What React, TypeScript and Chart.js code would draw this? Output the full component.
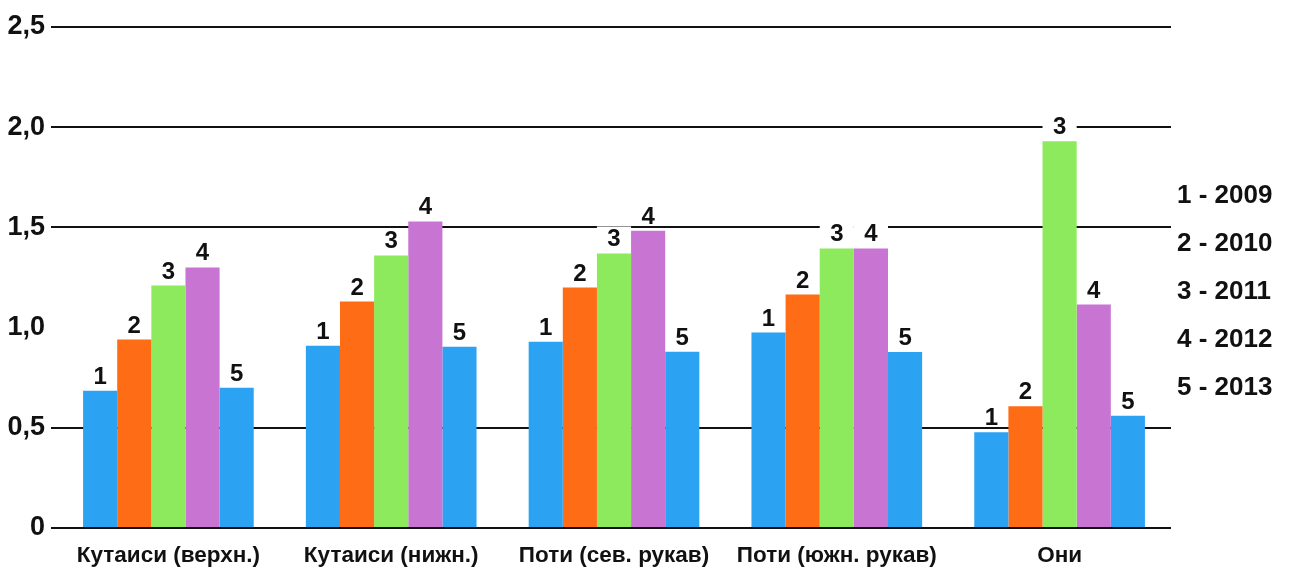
import React, { useEffect, useRef } from "react";
import { Chart, registerables } from "chart.js";

Chart.register(...registerables);

const categories = [
  "Кутаиси (верхн.)",
  "Кутаиси (нижн.)",
  "Поти (сев. рукав)",
  "Поти (южн. рукав)",
  "Они",
];
const years = ["2009", "2010", "2011", "2012", "2013"];
const v2009 = [0.685, 0.91, 0.93, 0.975, 0.478];
const v2010 = [0.94, 1.13, 1.2, 1.165, 0.607];
const v2011 = [1.21, 1.36, 1.37, 1.395, 1.93];
const v2012 = [1.3, 1.53, 1.483, 1.395, 1.115];
const v2013 = [0.7, 0.905, 0.88, 0.878, 0.56];
const seriesValues = [v2009, v2010, v2011, v2012, v2013];
const seriesColors = ["#2ca2f2", "#ff6c16", "#8dea5c", "#c774d3", "#2ca2f2"];
const yTickLabels = ["0", "0,5", "1,0", "1,5", "2,0", "2,5"];
const hiddenGridValues = [1.0];
const legendLabels = years.map((y, i) => `${i + 1} - ${y}`);

const FONT = "'Liberation Sans', Arial, Helvetica, sans-serif";
const LABEL_FONT = `bold 24px ${FONT}`;

const barLabelPlugin = {
  id: "barLabels",
  beforeDatasetsDraw(chart: any) {
    // white backing behind the number labels, drawn under the bars
    const ctx = chart.ctx;
    ctx.save();
    ctx.font = LABEL_FONT;
    chart.data.datasets.forEach((ds: any, di: number) => {
      const meta = chart.getDatasetMeta(di);
      meta.data.forEach((bar: any) => {
        const w = ctx.measureText(String(di + 1)).width;
        const baseY = bar.y - 7;
        const bw = Math.max(w + 14, bar.width);
        ctx.fillStyle = "#ffffff";
        ctx.fillRect(bar.x - bw / 2, baseY - 20, bw, 20);
      });
    });
    ctx.restore();
  },
  afterDatasetsDraw(chart: any) {
    const ctx = chart.ctx;
    ctx.save();
    ctx.font = LABEL_FONT;
    ctx.textAlign = "center";
    ctx.textBaseline = "alphabetic";
    ctx.fillStyle = "#111111";
    chart.data.datasets.forEach((ds: any, di: number) => {
      const meta = chart.getDatasetMeta(di);
      meta.data.forEach((bar: any) => {
        ctx.fillText(String(di + 1), bar.x, bar.y - 7);
      });
    });
    ctx.restore();
  },
};

const sideLegendPlugin = {
  id: "sideLegend",
  afterDraw(chart: any) {
    const ctx = chart.ctx;
    ctx.save();
    ctx.font = `bold 26px ${FONT}`;
    ctx.fillStyle = "#111111";
    ctx.textAlign = "left";
    ctx.textBaseline = "middle";
    const x = chart.chartArea.right + 6;
    legendLabels.forEach((t, i) => {
      ctx.fillText(t, x, 196 + i * 48);
    });
    ctx.restore();
  },
};

export default function App() {
  const ref = useRef<HTMLCanvasElement | null>(null);
  useEffect(() => {
    if (!ref.current) return;
    const chart = new Chart(ref.current, {
      type: "bar",
      data: {
        labels: categories,
        datasets: seriesValues.map((vals, i) => ({
          label: years[i],
          data: vals,
          backgroundColor: seriesColors[i],
          borderWidth: 0,
          barPercentage: 1,
          categoryPercentage: 0.766,
        })),
      },
      options: {
        animation: false,
        responsive: false,
        devicePixelRatio: 1,
        layout: { padding: { top: 27, right: 119, bottom: 0, left: 0 } },
        plugins: {
          legend: { display: false },
          tooltip: { enabled: false },
        },
        scales: {
          x: {
            grid: { display: false },
            border: { display: false },
            ticks: {
              color: "#111111",
              font: { family: FONT, size: 22.5, weight: "bold" },
              padding: 6,
              maxRotation: 0,
              autoSkip: false,
            },
            afterFit(scale: any) {
              scale.height = 42;
            },
          },
          y: {
            min: 0,
            max: 2.5,
            border: { display: false },
            grid: {
              color: (c: any) =>
                c.tick && hiddenGridValues.includes(c.tick.value) ? "rgba(0,0,0,0)" : "#111111",
              lineWidth: 2,
              drawTicks: true,
              tickLength: 6,
            },
            ticks: {
              stepSize: 0.5,
              color: "#111111",
              padding: 6,
              font: { family: FONT, size: 27, weight: "bold" },
              callback: (_v: any, idx: number) => yTickLabels[idx],
            },
            afterFit(scale: any) {
              scale.width = 57;
            },
          },
        },
      },
      plugins: [barLabelPlugin, sideLegendPlugin],
    });
    return () => chart.destroy();
  }, []);
  return (
    <div style={{ position: "fixed", left: 0, top: 0, width: 1290, height: 570, background: "#fff" }}>
      <canvas ref={ref} width={1290} height={570} />
    </div>
  );
}
